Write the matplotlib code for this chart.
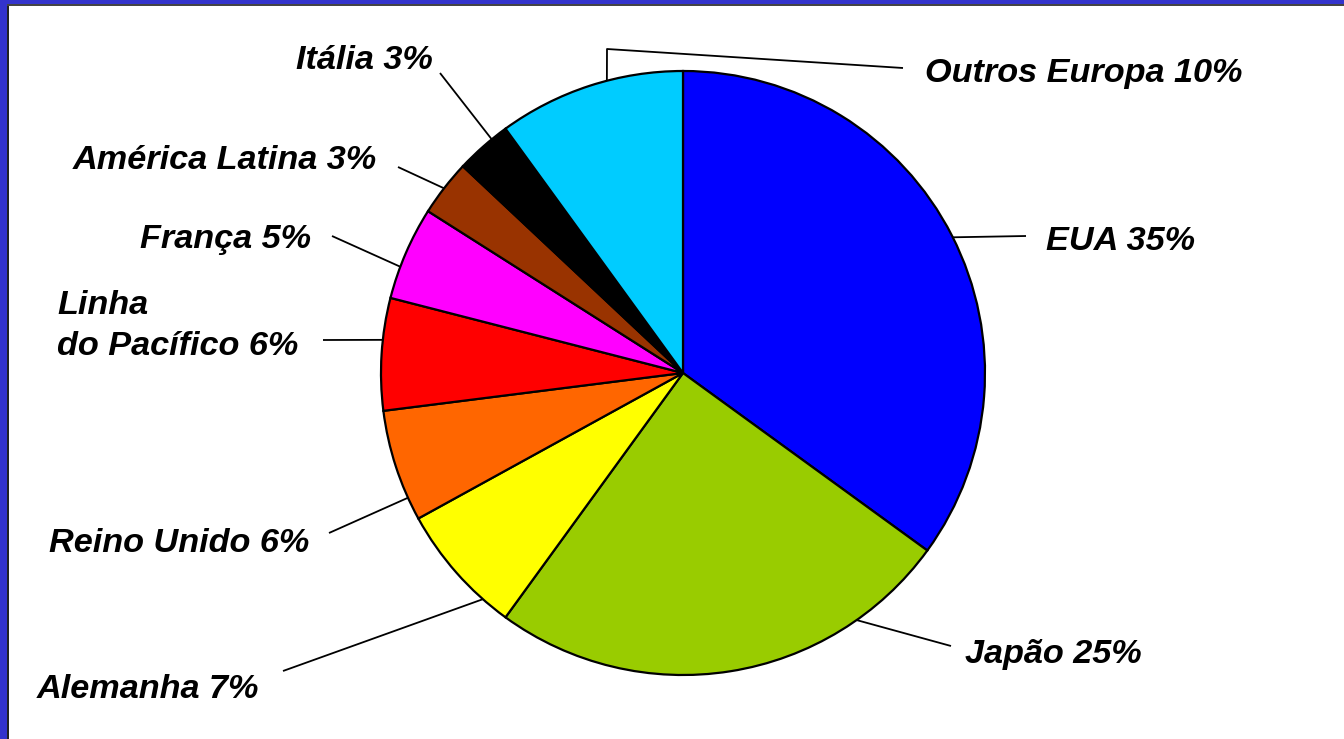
import matplotlib.pyplot as plt
from matplotlib.patches import Rectangle
import numpy as np

paises = ["EUA", "Japão", "Alemanha", "Reino Unido", "Linha\ndo Pacífico",
          "França", "América Latina", "Itália", "Outros Europa"]
percentuais = [35, 25, 7, 6, 6, 5, 3, 3, 10]
cores = ["#0000FF", "#99CC00", "#FFFF00", "#FF6600", "#FF0000",
         "#FF00FF", "#993300", "#000000", "#00CCFF"]

W, H = 1344, 739
cx, cy, r = 683, H - 373, 302

# texto: (x esquerda, linha de base) em pixels, y contado de cima
pos_texto = [(1046, 250), (965, 663), (37, 698), (49, 552), (57, 355),
             (140, 248), (73, 169), (296, 69), (925, 82)]
# ângulo (graus) onde a linha de chamada toca a borda da pizza
ang_chamada = [26.7, -54.9, -131.5, 204.4, 173.7, 159.4, 142.3, 129.3, 104.6]
# outra ponta da linha de chamada
ponta = [(1026, 236), (951, 646), (283, 671), (329, 533), (323, 340),
         (332, 236), (398, 167), (440, 73), (903, 68)]
cotovelo = [None] * 8 + [(607, 49)]

fig = plt.figure(figsize=(W / 100, H / 100), dpi=100)
fig.patch.set_facecolor("white")
ax = fig.add_axes([0, 0, 1, 1])

ax.pie(percentuais, colors=cores, startangle=90, counterclock=False,
       center=(cx, cy), radius=r,
       wedgeprops=dict(edgecolor="black", linewidth=1.6))

fonte = dict(family=["Liberation Sans", "DejaVu Sans"], weight="bold",
             style="italic", size=24.7, color="black")

for i, nome in enumerate(paises):
    a = np.radians(ang_chamada[i])
    xs = [cx + r * np.cos(a)]
    ys = [cy + r * np.sin(a)]
    if cotovelo[i] is not None:
        xs.append(cotovelo[i][0])
        ys.append(H - cotovelo[i][1])
    xs.append(ponta[i][0])
    ys.append(H - ponta[i][1])
    ax.plot(xs, ys, color="black", lw=1.3, solid_capstyle="butt", zorder=3)

    linhas = f"{nome} {percentuais[i]}%".split("\n")
    x0, y0 = pos_texto[i]
    for k, linha in enumerate(reversed(linhas)):
        ax.text(x0, H - y0 + k * 41, linha, ha="left", va="baseline", **fonte)

ax.set_xlim(0, W)
ax.set_ylim(0, H)
ax.axis("off")

# moldura azul do slide (esquerda e topo)
azul = "#3333CC"
fig.add_artist(Rectangle((0, 0), 7 / W, 1, transform=fig.transFigure,
                         facecolor=azul, edgecolor="none"))
fig.add_artist(Rectangle((0, 1 - 4 / H), 1, 4 / H, transform=fig.transFigure,
                         facecolor=azul, edgecolor="none"))
fig.add_artist(Rectangle((7 / W, 0), 1.5 / W, 1 - 4 / H, transform=fig.transFigure,
                         facecolor="#222222", edgecolor="none"))
fig.add_artist(Rectangle((7 / W, 1 - 5.5 / H), 1 - 7 / W, 1.5 / H,
                         transform=fig.transFigure,
                         facecolor="#444444", edgecolor="none"))

fig.savefig("out.png", dpi=100)
